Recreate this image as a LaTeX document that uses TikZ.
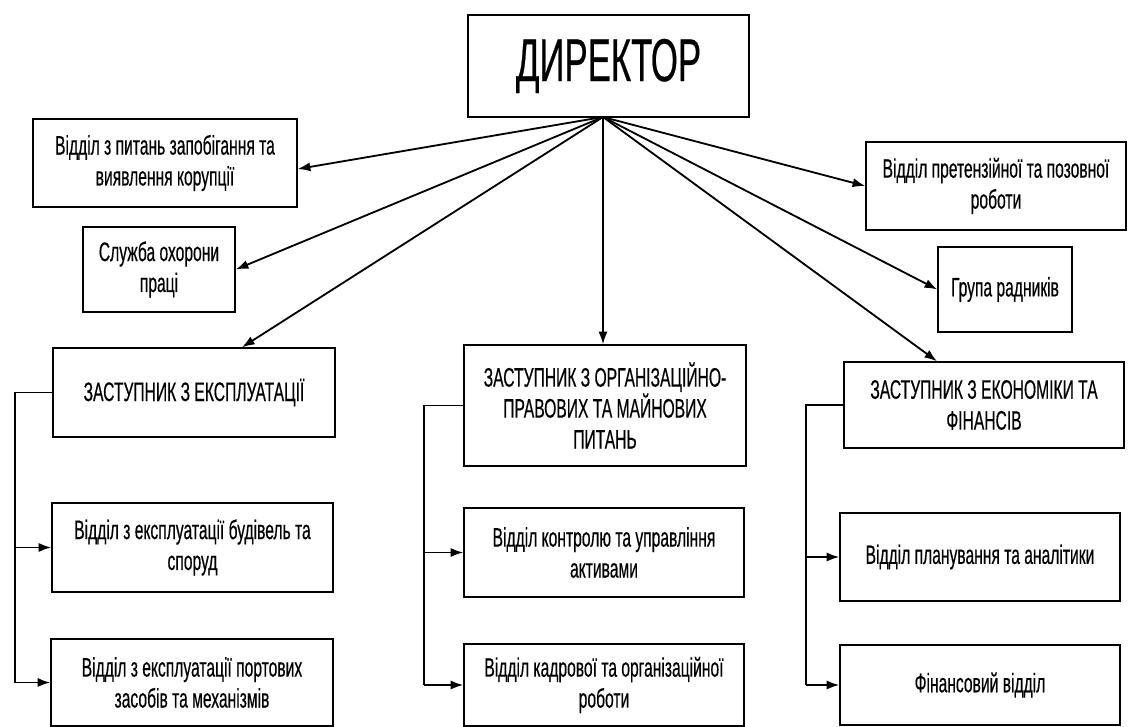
\documentclass[tikz,border=0pt]{standalone}
\usepackage{fontspec}
\setmainfont{Liberation Sans}[FakeStretch=0.585,FakeBold=0.4]
\newfontfamily\dirfont{Liberation Sans}[FakeStretch=0.575,FakeBold=0.4]
\usetikzlibrary{arrows.meta}
\begin{document}
\begin{tikzpicture}[x=0.025cm, y=-0.025cm, line width=1.3pt,
  >={Latex[length=9pt,width=6.5pt]},
  box/.style={draw, line width=1pt, align=center, inner sep=2pt, font=\fontsize{19}{22}\selectfont}]
\def\PX{0.025cm};
\useasboundingbox (0,0) rectangle (1132,727);
% top
\node[box, minimum width=281*\PX, minimum height=102*\PX, font=\dirfont\fontsize{43}{48}\selectfont] (dir) at (608.5,66) {ДИРЕКТОР};
\coordinate (src) at (603,117);
% side departments
\node[box, minimum width=264*\PX, minimum height=88*\PX] (kor) at (165,163) {Відділ з питань запобігання та\\виявлення корупції};
\node[box, minimum width=152*\PX, minimum height=85*\PX] (ohor) at (159,269.5) {Служба охорони\\праці};
\node[box, minimum width=260*\PX, minimum height=88*\PX] (pret) at (996,186) {Відділ претензійної та позовної\\роботи};
\node[box, minimum width=134*\PX, minimum height=85*\PX] (rad) at (1005,289.5) {Група радників};
% deputies
\node[box, minimum width=282*\PX, minimum height=89*\PX] (zexp) at (194,392.5) {ЗАСТУПНИК З ЕКСПЛУАТАЦІЇ};
\node[box, minimum width=282*\PX, minimum height=121*\PX] (zorg) at (605,405.5) {ЗАСТУПНИК З ОРГАНІЗАЦІЙНО-\\ПРАВОВИХ ТА МАЙНОВИХ\\ПИТАНЬ};
\node[box, minimum width=280*\PX, minimum height=86*\PX] (zek) at (984,405) {ЗАСТУПНИК З ЕКОНОМІКИ ТА\\ФІНАНСІВ};
% sub departments
\node[box, minimum width=281*\PX, minimum height=89*\PX] (bud) at (192.5,547.5) {Відділ з експлуатації будівель та\\споруд};
\node[box, minimum width=282*\PX, minimum height=87*\PX] (port) at (192,682.5) {Відділ з експлуатації портових\\засобів та механізмів};
\node[box, minimum width=280*\PX, minimum height=89*\PX] (akt) at (604,552.5) {Відділ контролю та управління\\активами};
\node[box, minimum width=280*\PX, minimum height=82*\PX] (kadr) at (604,685) {Відділ кадрової та організаційної\\роботи};
\node[box, minimum width=280*\PX, minimum height=88*\PX] (plan) at (980,557) {Відділ планування та аналітики};
\node[box, minimum width=280*\PX, minimum height=80*\PX] (fin) at (980,685) {Фінансовий відділ};
% arrows from director
\draw[->] (src)--([yshift=-6*\PX]kor.east);
\draw[->] (src)--(ohor.east);
\draw[->] (src)--([xshift=48*\PX]zexp.north);
\draw[->] (src)--(src |- zorg.north);
\draw[->] (src)--(pret.west);
\draw[->] (src)--(rad.west);
\draw[->] (src)--([xshift=-47*\PX]zek.north);
% buses
\coordinate (b1) at (15,0); \coordinate (b2) at (424,0); \coordinate (b3) at (806,0);
\draw (zexp.west)--(zexp.west -| b1)--(port.west -| b1);
\draw[->] (bud.west -| b1)--(bud.west); \draw[->] (port.west -| b1)--(port.west);
\draw (zorg.west)--(zorg.west -| b2)--(kadr.west -| b2);
\draw[->] (akt.west -| b2)--(akt.west); \draw[->] (kadr.west -| b2)--(kadr.west);
\draw (zek.west)--(zek.west -| b3)--(fin.west -| b3);
\draw[->] (plan.west -| b3)--(plan.west); \draw[->] (fin.west -| b3)--(fin.west);
\end{tikzpicture}
\end{document}
